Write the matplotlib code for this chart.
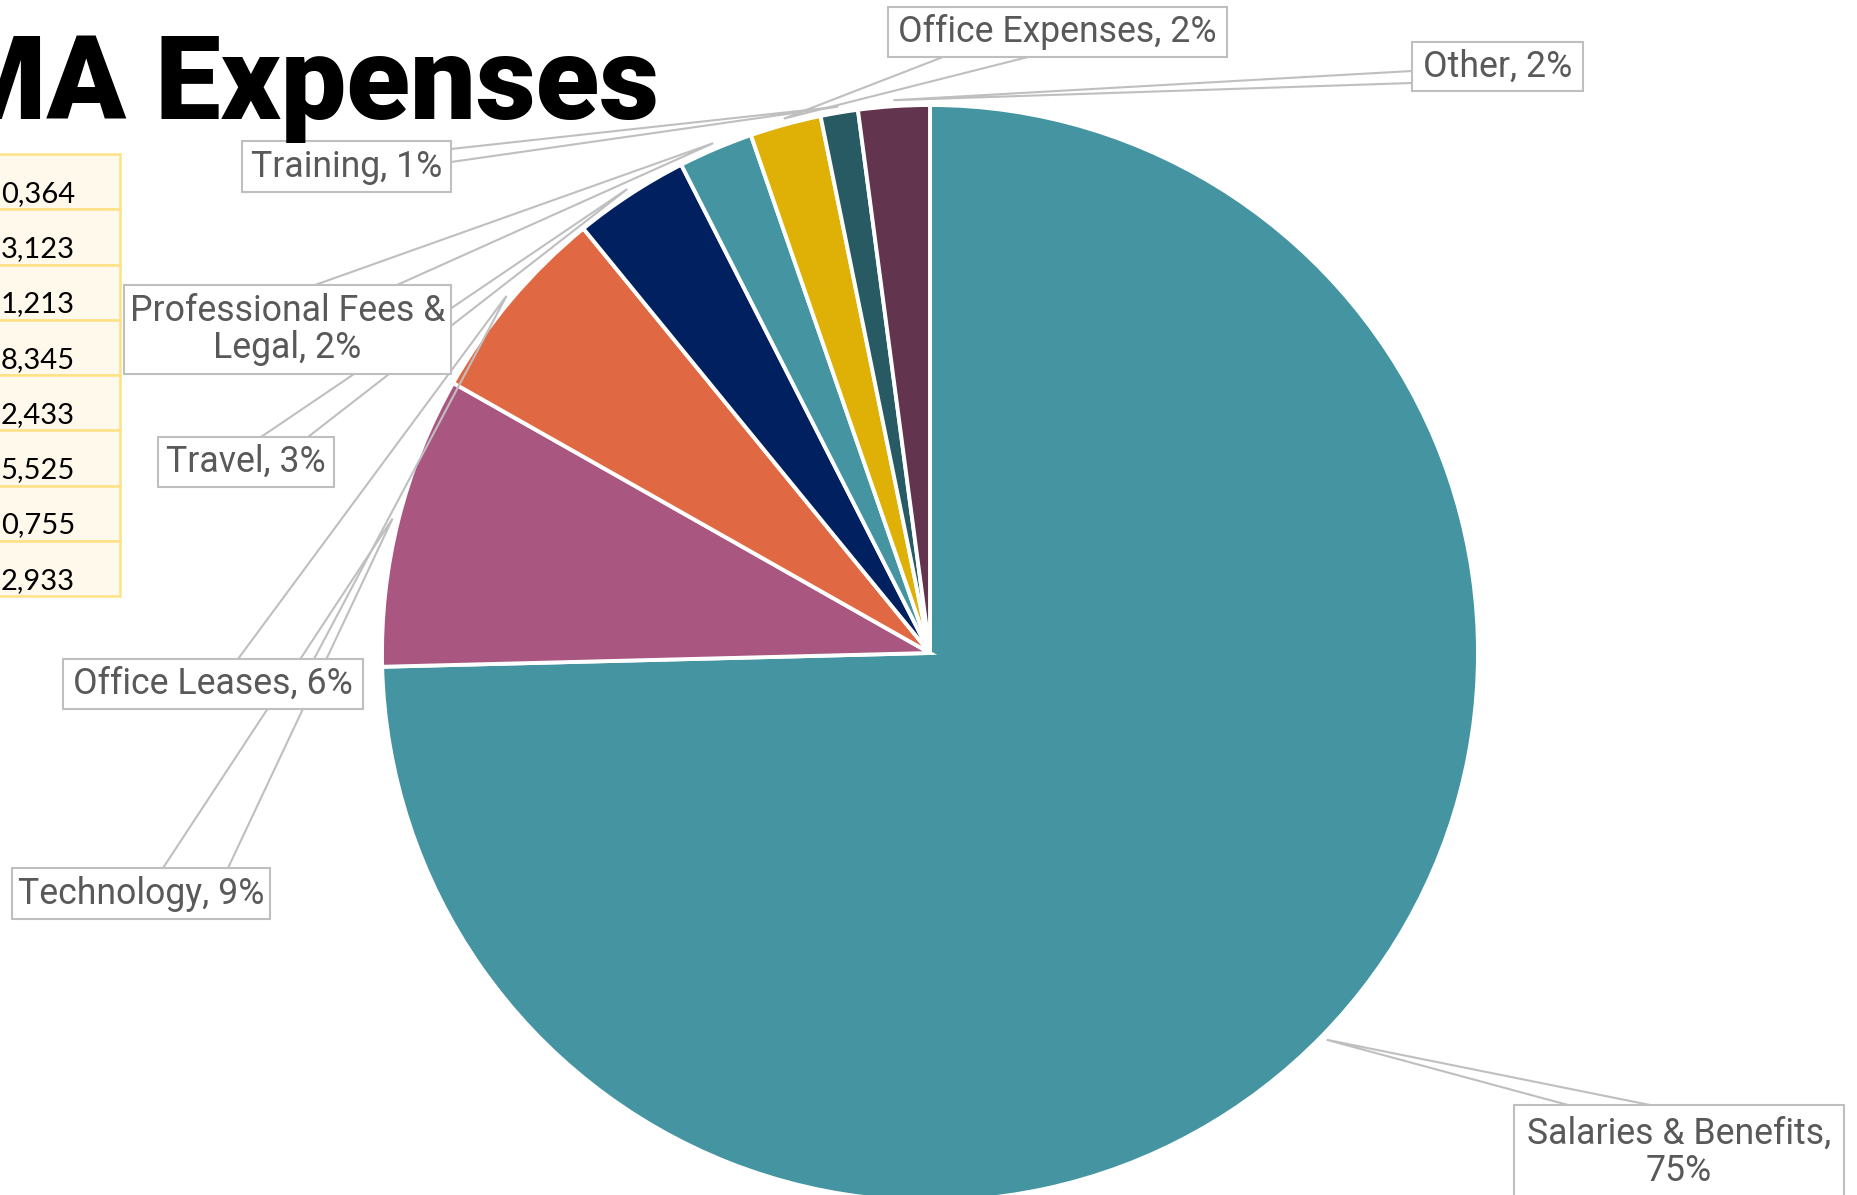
import matplotlib
matplotlib.use("Agg")
import matplotlib.pyplot as plt
from matplotlib.patches import Rectangle
import numpy as np

# ---------------- data ----------------
categories = ["Salaries & Benefits", "Technology", "Office Leases", "Travel",
              "Professional Fees & Legal", "Office Expenses", "Training", "Other"]
shares = [74.6, 8.6, 5.9, 3.4, 2.2, 2.1, 1.1, 2.1]
colors = ["#4495A1", "#A95780", "#E06842", "#00205F",
          "#4495A1", "#DFB005", "#275A62", "#62344D"]
table_values = ["0,364", "3,123", "1,213", "8,345", "2,433", "5,525", "0,755", "2,933"]
title = "MA Expenses"

# ---------------- layout (pixel units, top-down) ----------------
W, H = 1858, 1195
CX, CY, R = 930, 653, 548

# label boxes (x0, y0, x1, y1) and callout base points on box edge
boxes = {
    "Salaries & Benefits": ((1514, 1105, 1844, 1200), ((1568, 1105), (1650, 1105))),
    "Technology": ((12, 868, 270, 919), ((163, 868), (228, 868))),
    "Office Leases": ((63, 659, 363, 709), ((238, 659), (314, 659))),
    "Travel": ((158, 437, 334, 487), ((261, 437), (308, 437))),
    "Professional Fees & Legal": ((124, 285, 451, 374), ((315, 285), (397, 285))),
    "Office Expenses": ((888, 7, 1227, 57), ((943, 57), (1028, 57))),
    "Training": ((242, 141, 451, 192), ((451, 149), (451, 162))),
    "Other": ((1412, 42, 1583, 91), ((1412, 71), (1412, 83))),
}

LABEL_FONT = ["Liberation Sans Narrow", "Roboto", "DejaVu Sans"]
LINE_C = "#BFBFBF"
TEXT_C = "#595959"


def Y(y):
    return H - y


fig = plt.figure(figsize=(W / 100, H / 100), dpi=100)
ax = fig.add_axes([0, 0, 1, 1])

wedges, _ = ax.pie(shares, colors=colors, startangle=90, counterclock=False,
                   center=(CX, Y(CY)), radius=R,
                   wedgeprops=dict(edgecolor="white", linewidth=2.8))
ax.set_xlim(0, W)
ax.set_ylim(0, H)
ax.set_aspect("equal")
ax.axis("off")

fig.canvas.draw()
rend = fig.canvas.get_renderer()


def fit_size(text, target_w, **kw):
    t = ax.text(0, 0, text, fontsize=20, **kw)
    w = t.get_window_extent(rend).width
    t.remove()
    return 20 * target_w / w


label_fs = fit_size("Office Expenses, 2%", 318, family=LABEL_FONT)

total = sum(shares)
for name, share, w in zip(categories, shares, wedges):
    pct = int(share / total * 100 + 0.5)
    if name == "Professional Fees & Legal":
        txt = f"Professional Fees &\nLegal, {pct}%"
    elif name == "Salaries & Benefits":
        txt = f"Salaries & Benefits,\n{pct}%"
    else:
        txt = f"{name}, {pct}%"
    (x0, y0, x1, y1), (b1, b2) = boxes[name]
    mid = np.deg2rad((w.theta1 + w.theta2) / 2)
    tx = CX + (R + 6) * np.cos(mid)
    ty = Y(CY) + (R + 6) * np.sin(mid)
    ax.plot([b1[0], tx, b2[0]], [Y(b1[1]), ty, Y(b2[1])], color=LINE_C,
            lw=1.5, zorder=3, solid_joinstyle="miter")
    ax.add_patch(Rectangle((x0, Y(y1)), x1 - x0, y1 - y0, facecolor="white",
                           edgecolor=LINE_C, lw=1.5, zorder=4))
    if name == "Salaries & Benefits":
        cy = 1152
    else:
        cy = (y0 + y1) / 2
    ax.text((x0 + x1) / 2, Y(cy), txt, ha="center", va="center",
            fontsize=label_fs, color=TEXT_C, family=LABEL_FONT,
            linespacing=1.05, zorder=5)

# table fragment
row_top, row_h = 154, 55.25
for i, v in enumerate(table_values):
    top = row_top + i * row_h
    ax.add_patch(Rectangle((-100, Y(top + row_h)), 220, row_h,
                           facecolor="#FFF9EC", edgecolor="#FFE186",
                           lw=1.8, zorder=2, clip_on=False))
    ax.text(75, Y(top + 48), v, ha="right", va="baseline", fontsize=21,
            color="black", family=["Lato", "DejaVu Sans"], zorder=3)

# title
title_fs = fit_size("Expenses", 505, family=["Roboto", "DejaVu Sans"], weight="black")
ax.text(659, Y(119), title, ha="right", va="baseline", fontsize=title_fs,
        family=["Roboto", "DejaVu Sans"], weight="black", color="black", zorder=6)

fig.savefig("out.png", dpi=100)
